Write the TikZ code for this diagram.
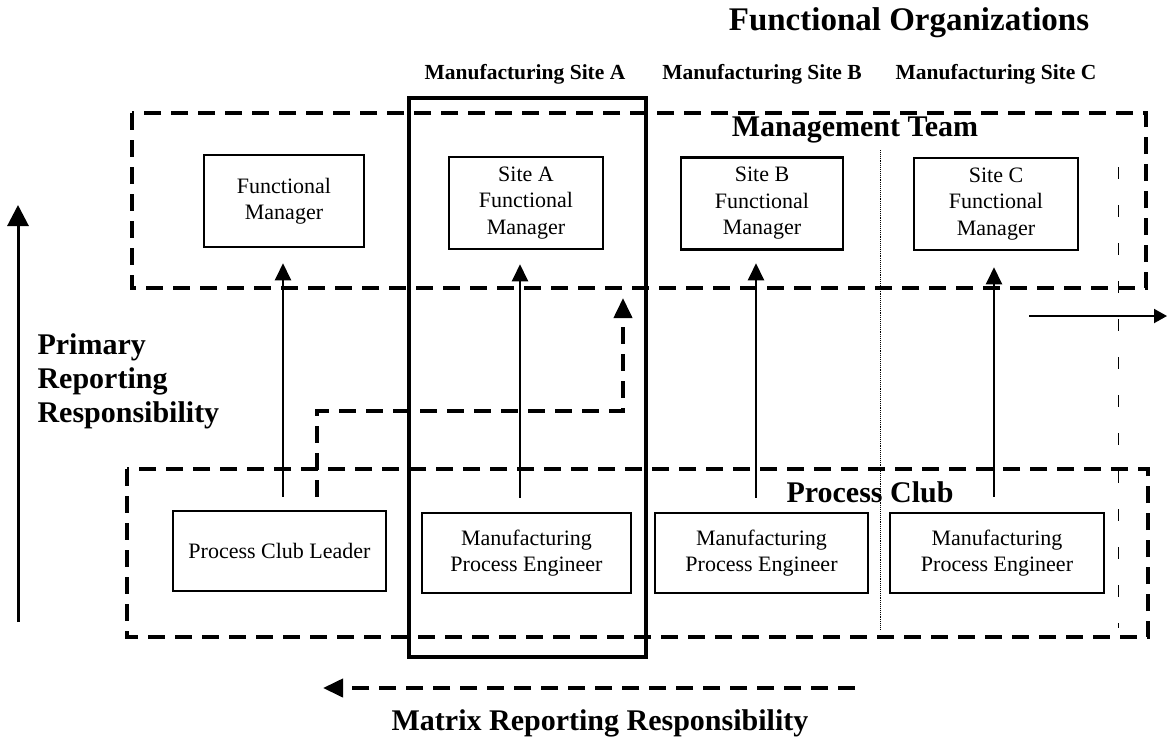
\documentclass[tikz,border=0pt]{standalone}
\usepackage{fontspec}
\setmainfont{Liberation Serif}
\usetikzlibrary{arrows.meta}

\tikzset{
  role/.style={draw, line width=2.5pt, align=center, inner sep=0pt,
    font=\fontsize{22}{26.5}\selectfont},
  topbox/.style={role, minimum height=92pt},
  lowbox/.style={role, minimum height=80pt},
  groupbox/.style={line width=4pt, dash pattern=on 17pt off 10pt},
  heading/.style={font=\bfseries\fontsize{30}{34}\selectfont},
  sitelabel/.style={font=\bfseries\fontsize{21.5}{24}\selectfont},
  uparrow/.style={line width=2pt, -{Triangle[width=16pt,length=17pt]}},
  matrixarrow/.style={line width=4pt, dash pattern=on 17pt off 10pt,
    -{Triangle[width=18pt,length=20pt]}},
}

\begin{document}
\begin{tikzpicture}[x=1pt, y=-1pt]
\useasboundingbox (0,0) rectangle (1167,740);

% headings
\node[font=\bfseries\fontsize{33}{36}\selectfont] (title) at (909,23) {Functional Organizations};
\node[sitelabel] (labA) at (525,74) {Manufacturing Site A};
\node[sitelabel] (labB) at (762,74) {Manufacturing Site B};
\node[sitelabel] (labC) at (996,74) {Manufacturing Site C};

% group outlines
\draw[groupbox] (132,113) rectangle (1146,288);
\draw[groupbox] (127,469) rectangle (1148,637);
\node[heading] (mteam) at (855,130) {Management Team};
\node[heading] (pclub) at (870,492) {Process Club};

% site A column
\draw[line width=4pt] (409,98) rectangle (646,657);

% site separators
\draw[line width=0.9pt, densely dotted] (880,150) -- (880,630);
\draw[line width=1pt, dash pattern=on 12pt off 26pt] (1118,167) -- (1118,628);

% managers
\node[topbox, minimum width=160pt] (fm) at (284,201) {Functional\\Manager};
\node[topbox, minimum width=154pt] (fma) at (526,203) {Site A\\Functional\\Manager};
\node[topbox, minimum width=162pt] (fmb) at (762,203.5) {Site B\\Functional\\Manager};
\node[topbox, minimum width=164pt] (fmc) at (996,204) {Site C\\Functional\\Manager};

% process club members
\node[lowbox, minimum width=213pt] (pcl) at (279.5,551) {Process Club Leader};
\node[lowbox, minimum width=209pt] (mpea) at (526.5,553) {Manufacturing\\Process Engineer};
\node[lowbox, minimum width=213pt] (mpeb) at (761.5,553) {Manufacturing\\Process Engineer};
\node[lowbox, minimum width=214pt] (mpec) at (997,553) {Manufacturing\\Process Engineer};

% primary reporting lines
\draw[uparrow, shorten <=13pt, shorten >=15pt] ([xshift=3.5pt]pcl.north) -- ([xshift=-1pt]fm.south);
\draw[uparrow, shorten <=14pt, shorten >=14pt] ([xshift=-6.5pt]mpea.north) -- ([xshift=-6pt]fma.south);
\draw[uparrow, shorten <=14pt, shorten >=12.5pt] ([xshift=-5.5pt]mpeb.north) -- ([xshift=-6pt]fmb.south);
\draw[uparrow, shorten <=15pt, shorten >=16pt] ([xshift=-3pt]mpec.north) -- ([xshift=-2pt]fmc.south);

% matrix link from the club leader to site A management
\coordinate (bend) at (623,411);
\coordinate (mtip) at (623,298);
\draw[matrixarrow] ([xshift=37.5pt, yshift=13pt]pcl.north) |- (bend) -- (mtip);

% continuation to further sites
\coordinate (more0) at (1029,316);
\coordinate (more1) at (1167,316);
\draw[line width=2pt, -{Triangle[width=14pt,length=13pt]}] (more0) -- (more1);

% primary reporting axis
\coordinate (prim0) at (18,622);
\coordinate (prim1) at (18,205);
\draw[line width=3pt, -{Triangle[width=21pt,length=21pt]}] (prim0) -- (prim1);
\node[heading, align=left, anchor=north west] (primlab) at (34,330) {Primary\\Reporting\\Responsibility};

% matrix reporting axis
\coordinate (mat0) at (855,688);
\coordinate (mat1) at (323,688);
\draw[matrixarrow] (mat0) -- (mat1);
\node[heading] (matlab) at (600,723) {Matrix Reporting Responsibility};
\end{tikzpicture}
\end{document}
